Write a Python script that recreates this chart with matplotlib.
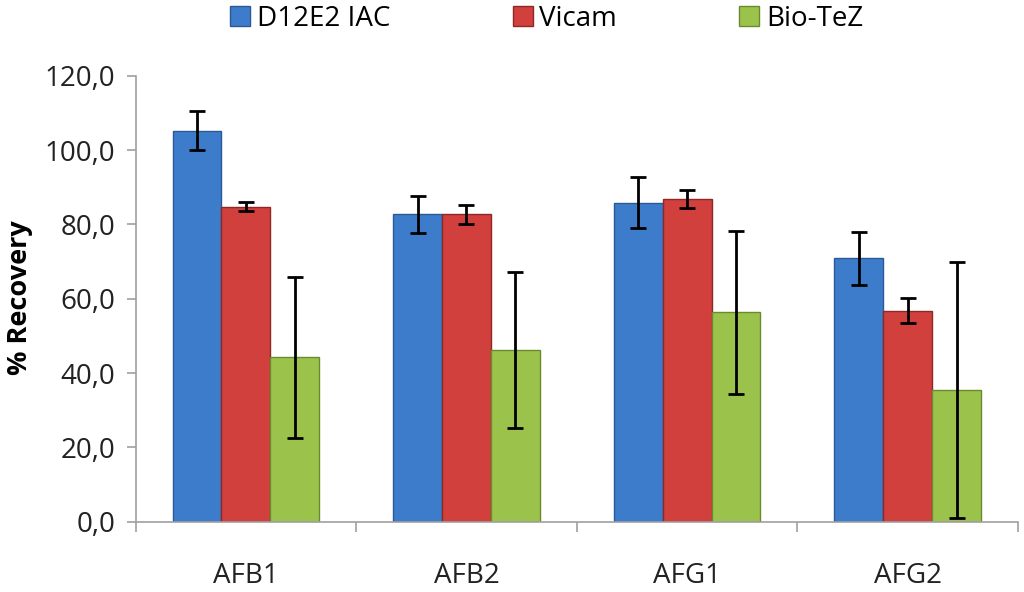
import matplotlib.pyplot as plt
import numpy as np
from matplotlib.ticker import FuncFormatter, FixedLocator

# 데이터
categories = ["AFB1", "AFB2", "AFG1", "AFG2"]
series_names = ["D12E2 IAC", "Vicam", "Bio-TeZ"]

d12e2_mean = [105.2, 82.7, 85.8, 70.9]
d12e2_err = [5.3, 4.9, 6.9, 7.1]

vicam_mean = [84.7, 82.7, 86.9, 56.8]
vicam_err = [1.2, 2.5, 2.4, 3.3]

biotez_mean = [44.2, 46.2, 56.3, 35.5]
biotez_err = [21.6, 21.0, 21.8, 34.5]

colors = ["#3D7CCB", "#D1403D", "#9BC34B"]
edge_colors = ["#2A5A96", "#8E2826", "#6B8A2E"]


def main():
    plt.rcParams["font.family"] = ["Open Sans", "DejaVu Sans"]

    fig = plt.figure(figsize=(10.24, 5.92), dpi=100)
    ax = fig.add_axes([0.1325, 0.1187, 0.8615, 0.7534])

    x = np.arange(len(categories))
    width = 0.222
    means = [d12e2_mean, vicam_mean, biotez_mean]
    errs = [d12e2_err, vicam_err, biotez_err]

    handles = []
    for i, name in enumerate(series_names):
        offset = (i - 1) * width
        bars = ax.bar(
            x + offset, means[i], width,
            color=colors[i], edgecolor=edge_colors[i], linewidth=1.0,
            label=name, zorder=2,
        )
        ax.errorbar(
            x + offset, means[i], yerr=errs[i], fmt="none",
            ecolor="black", elinewidth=2.0, capsize=5.5, capthick=2.0, zorder=3,
        )
        handles.append(bars)

    ax.set_xlim(-0.5, len(categories) - 0.5)
    ax.set_ylim(0, 120)
    ax.yaxis.set_major_locator(FixedLocator([0, 20, 40, 60, 80, 100, 120]))
    ax.yaxis.set_major_formatter(FuncFormatter(lambda v, p: f"{v:.1f}".replace(".", ",")))

    ax.set_xticks(x)
    ax.set_xticklabels(categories)
    ax.set_xticks(np.arange(-0.5, len(categories), 1.0), minor=True)
    ax.tick_params(axis="x", which="major", length=0, pad=29, labelsize=20)
    ax.tick_params(axis="x", which="minor", length=7, width=1.2, color="#A0A0A0", direction="out")
    ax.tick_params(axis="y", length=6.5, width=1.2, color="#A0A0A0", labelsize=20, pad=8,
                   labelcolor="#222222")
    ax.tick_params(axis="x", labelcolor="#222222")

    for side in ["top", "right"]:
        ax.spines[side].set_visible(False)
    for side in ["left", "bottom"]:
        ax.spines[side].set_color("#A0A0A0")
        ax.spines[side].set_linewidth(1.2)

    fig.text(20 / 1024, 0.4966, "% Recovery", rotation=90, ha="center", va="center",
             fontsize=19.5, fontweight="bold")

    fig.legend(
        handles, series_names, loc="center", bbox_to_anchor=(0.534, 0.968),
        ncol=3, frameon=False, fontsize=20, handlelength=0.72, handleheight=0.72,
        handletextpad=0.25, columnspacing=4.4,
    )

    fig.savefig("out.png", dpi=100)
    plt.close(fig)


if __name__ == "__main__":
    main()
